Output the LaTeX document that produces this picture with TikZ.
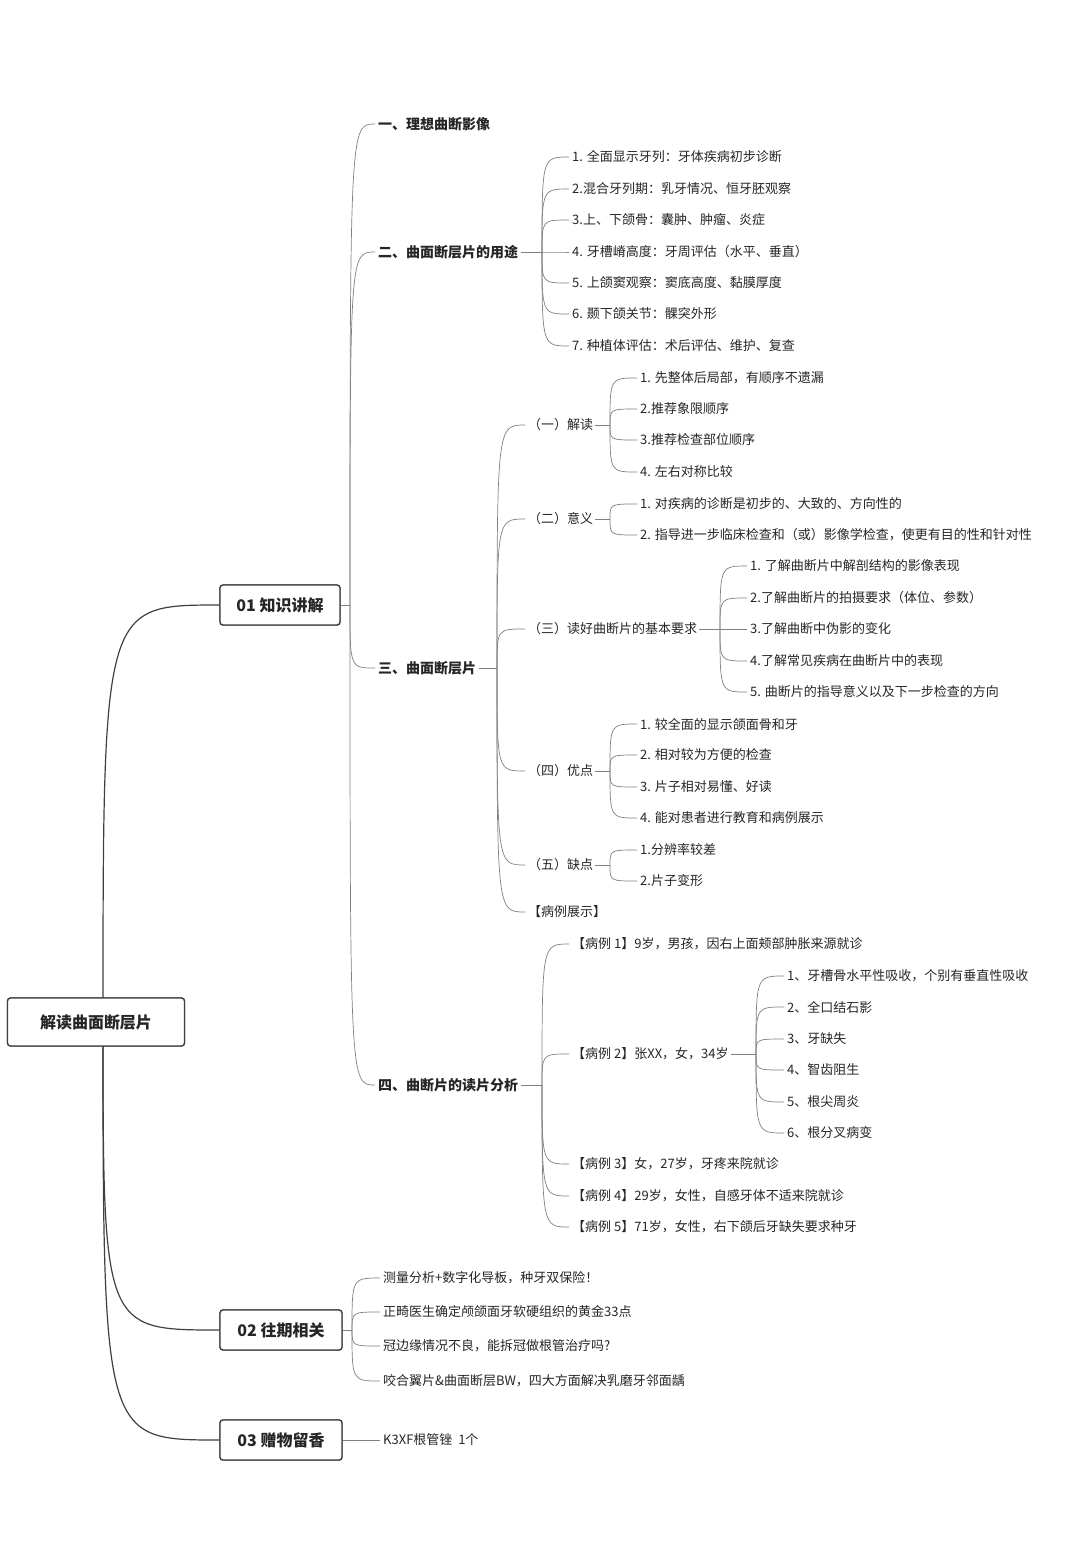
\documentclass[tikz,border=0pt]{standalone}
\usepackage{fontspec}
\setmainfont{Noto Sans CJK SC}
\begin{document}
\begin{tikzpicture}[x=1pt,y=-1pt,
  ln/.style={draw=black!50,line width=0.7pt},
  lf/.style={anchor=west,inner sep=0pt,font=\fontsize{13}{15}\selectfont,text=black!85},
  bd/.style={anchor=west,inner sep=0pt,font=\fontsize{14}{16}\selectfont\bfseries,text=black!85},
  bx/.style={draw=black!75,line width=1.3pt,rounded corners=3pt,fill=white,font=\fontsize{16}{18}\selectfont\bfseries,text=black!85,minimum height=40pt}]
\useasboundingbox[fill=white] (0,0) rectangle (1080,1551);
\newcommand\cn[2]{\draw[ln] (#1) .. controls (#1 |- #2.west) .. ([xshift=-3pt]#2.west);}
% boxes
\node[bx,minimum width=177pt,minimum height=48pt] (root) at (96,1022) {解读曲面断层片};
\node[bx,minimum width=120pt] (b1) at (280,605) {01 知识讲解};
\node[bx,minimum width=122pt] (b2) at (281,1330) {02 往期相关};
\node[bx,minimum width=122pt] (b3) at (281,1440) {03 赠物留香};
% level 2
\node[bd] (s1) at (378,124) {一、理想曲断影像};
\node[bd] (s2) at (378,252) {二、曲面断层片的用途};
\node[bd] (s3) at (378,668) {三、曲面断层片};
\node[bd] (s4) at (378,1085) {四、曲断片的读片分析};
% s2 leaves
\foreach \i/\y/\t in {1/157/1. 全面显示牙列：牙体疾病初步诊断,2/189/2.混合牙列期：乳牙情况、恒牙胚观察,3/220/3.上、下颌骨：囊肿、肿瘤、炎症,4/252/4. 牙槽嵴高度：牙周评估（水平、垂直）,5/283/5. 上颌窦观察：窦底高度、黏膜厚度,6/314/6. 颞下颌关节：髁突外形,7/346/7. 种植体评估：术后评估、维护、复查}
  \node[lf] (a\i) at (572,\y) {\t};
% s3 children
\node[lf] (c1) at (528,425) {（一）解读};
\node[lf] (c2) at (528,519) {（二）意义};
\node[lf] (c3) at (528,629) {（三）读好曲断片的基本要求};
\node[lf] (c4) at (528,771) {（四）优点};
\node[lf] (c5) at (528,865) {（五）缺点};
\node[lf] (c6) at (528,912) {【病例展示】};
\foreach \i/\y/\t in {1/378/1. 先整体后局部，有顺序不遗漏,2/409/2.推荐象限顺序,3/440/3.推荐检查部位顺序,4/472/4. 左右对称比较}
  \node[lf] (d\i) at (640,\y) {\t};
\foreach \i/\y/\t in {1/504/1. 对疾病的诊断是初步的、大致的、方向性的,2/535/2. 指导进一步临床检查和（或）影像学检查，使更有目的性和针对性}
  \node[lf] (e\i) at (640,\y) {\t};
\foreach \i/\y/\t in {1/566/1. 了解曲断片中解剖结构的影像表现,2/598/2.了解曲断片的拍摄要求（体位、参数）,3/629/3.了解曲断中伪影的变化,4/661/4.了解常见疾病在曲断片中的表现,5/692/5. 曲断片的指导意义以及下一步检查的方向}
  \node[lf] (f\i) at (750,\y) {\t};
\foreach \i/\y/\t in {1/724/1. 较全面的显示颌面骨和牙,2/755/2. 相对较为方便的检查,3/787/3. 片子相对易懂、好读,4/818/4. 能对患者进行教育和病例展示}
  \node[lf] (g\i) at (640,\y) {\t};
\foreach \i/\y/\t in {1/850/1.分辨率较差,2/881/2.片子变形}
  \node[lf] (h\i) at (640,\y) {\t};
% s4 children
\node[lf] (k1) at (572,944) {【病例 1】9岁，男孩，因右上面颊部肿胀来源就诊};
\node[lf] (k2) at (572,1054) {【病例 2】张XX，女，34岁};
\node[lf] (k3) at (572,1164) {【病例 3】女，27岁，牙疼来院就诊};
\node[lf] (k4) at (572,1196) {【病例 4】29岁，女性，自感牙体不适来院就诊};
\node[lf] (k5) at (572,1227) {【病例 5】71岁，女性，右下颌后牙缺失要求种牙};
\foreach \i/\y/\t in {1/976/1、牙槽骨水平性吸收，个别有垂直性吸收,2/1007/2、全口结石影,3/1039/3、牙缺失,4/1070/4、智齿阻生,5/1102/5、根尖周炎,6/1133/6、根分叉病变}
  \node[lf] (m\i) at (787,\y) {\t};
% 02/03
\foreach \i/\y/\t in {1/1278/测量分析+数字化导板，种牙双保险！,2/1312/正畸医生确定颅颌面牙软硬组织的黄金33点,3/1346/冠边缘情况不良，能拆冠做根管治疗吗?,4/1381/咬合翼片\&曲面断层BW，四大方面解决乳磨牙邻面龋}
  \node[lf] (p\i) at (383,\y) {\t};
\node[lf] (q1) at (383,1440) {K3XF根管锉\ \ 1个};
% junctions
\coordinate (jr) at (103,1022);
\coordinate (j1) at (350,605);
\coordinate (j2) at (542,252);
\coordinate (j3) at (497,668);
\coordinate (jc1) at (610,425);
\coordinate (jc2) at (610,519);
\coordinate (jc3) at (720,629);
\coordinate (jc4) at (610,771);
\coordinate (jc5) at (610,865);
\coordinate (j4) at (542,1085);
\coordinate (jk2) at (756,1054);
\coordinate (jb2) at (352,1330);
\coordinate (jb3) at (352,1440);
\begin{scope}[on background layer/.style={}]
\end{scope}
% connectors (boxes redrawn on top)
\draw[ln,line width=1.2pt,black!75] (jr) .. controls (jr |- b1.west) .. (b1.west);
\draw[ln,line width=1.2pt,black!75] (jr) .. controls (jr |- b2.west) .. (b2.west);
\draw[ln,line width=1.2pt,black!75] (jr) .. controls (jr |- b3.west) .. (b3.west);
\draw[ln] (b1.east) -- (j1);
\draw[ln] (b2.east) -- (jb2);
\draw[ln] (b3.east) -- (jb3);
\foreach \n in {s1,s2,s3,s4} {\cn{j1}{\n}}
\draw[ln] ([xshift=3pt]s2.east) -- (j2);
\foreach \n in {a1,a2,a3,a4,a5,a6,a7} {\cn{j2}{\n}}
\draw[ln] ([xshift=3pt]s3.east) -- (j3);
\foreach \n in {c1,c2,c3,c4,c5,c6} {\cn{j3}{\n}}
\draw[ln] ([xshift=2pt]c1.east) -- (jc1);
\foreach \n in {d1,d2,d3,d4} {\cn{jc1}{\n}}
\draw[ln] ([xshift=2pt]c2.east) -- (jc2);
\foreach \n in {e1,e2} {\cn{jc2}{\n}}
\draw[ln] ([xshift=2pt]c3.east) -- (jc3);
\foreach \n in {f1,f2,f3,f4,f5} {\cn{jc3}{\n}}
\draw[ln] ([xshift=2pt]c4.east) -- (jc4);
\foreach \n in {g1,g2,g3,g4} {\cn{jc4}{\n}}
\draw[ln] ([xshift=2pt]c5.east) -- (jc5);
\foreach \n in {h1,h2} {\cn{jc5}{\n}}
\draw[ln] ([xshift=3pt]s4.east) -- (j4);
\foreach \n in {k1,k2,k3,k4,k5} {\cn{j4}{\n}}
\draw[ln] ([xshift=2pt]k2.east) -- (jk2);
\foreach \n in {m1,m2,m3,m4,m5,m6} {\cn{jk2}{\n}}
\foreach \n in {p1,p2,p3,p4} {\cn{jb2}{\n}}
\cn{jb3}{q1}
% redraw boxes on top
\node[bx,minimum width=177pt,minimum height=48pt] at (96,1022) {解读曲面断层片};
\node[bx,minimum width=120pt] at (280,605) {01 知识讲解};
\node[bx,minimum width=122pt] at (281,1330) {02 往期相关};
\node[bx,minimum width=122pt] at (281,1440) {03 赠物留香};
\end{tikzpicture}
\end{document}
